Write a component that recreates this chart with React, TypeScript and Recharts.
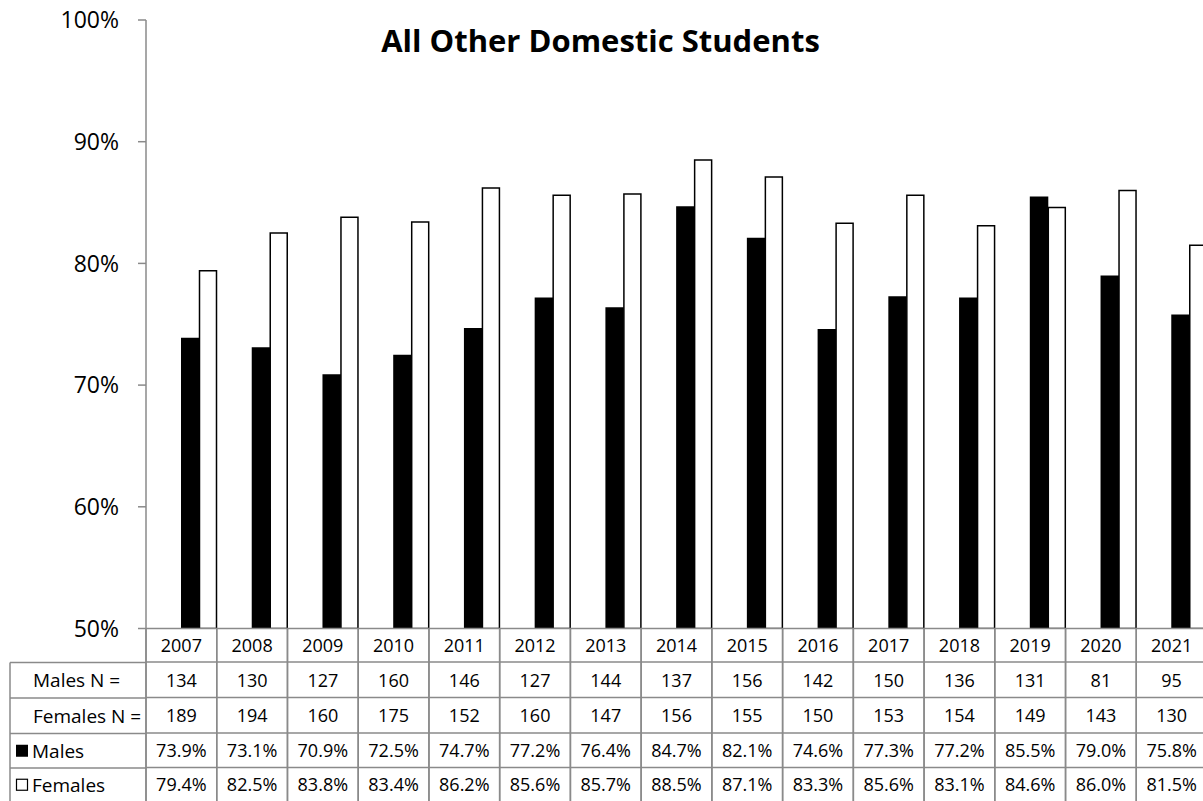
import React from 'react';
import { BarChart, Bar, XAxis, YAxis } from 'recharts';

const years = ['2007', '2008', '2009', '2010', '2011', '2012', '2013', '2014', '2015', '2016', '2017', '2018', '2019', '2020', '2021'];
const malesN = [134, 130, 127, 160, 146, 127, 144, 137, 156, 142, 150, 136, 131, 81, 95];
const femalesN = [189, 194, 160, 175, 152, 160, 147, 156, 155, 150, 153, 154, 149, 143, 130];
const malesPct = [73.9, 73.1, 70.9, 72.5, 74.7, 77.2, 76.4, 84.7, 82.1, 74.6, 77.3, 77.2, 85.5, 79.0, 75.8];
const femalesPct = [79.4, 82.5, 83.8, 83.4, 86.2, 85.6, 85.7, 88.5, 87.1, 83.3, 85.6, 83.1, 84.6, 86.0, 81.5];
const yTicks = [50, 60, 70, 80, 90, 100];

const data = years.map((year, i) => ({
  year,
  males: malesPct[i],
  females: femalesPct[i],
}));

const FONT = '"Open Sans", sans-serif';
const GRID = '#8a8a8a';

// plot geometry
const CHART_W = 1215;
const CHART_H = 801;
const AXIS_W = 146;
const TOP = 20;
const TABLE_H = 172.5;
const RIGHT = 8;
const COL_W = (CHART_W - AXIS_W - RIGHT) / years.length;

// row boundaries below the x axis line
const ROWS = [0, 33.5, 69, 104.5, 139, 172.5];
const mid = (r: number) => (ROWS[r] + ROWS[r + 1]) / 2;

const TableColumn = (props: any) => {
  const { x, y, payload } = props;
  const i = payload.index;
  const l = x - COL_W / 2;
  const r = x + COL_W / 2;
  const cells = [
    years[i],
    String(malesN[i]),
    String(femalesN[i]),
    malesPct[i].toFixed(1) + '%',
    femalesPct[i].toFixed(1) + '%',
  ];
  return (
    <g>
      <line x1={l} x2={l} y1={y} y2={y + ROWS[5]} stroke={GRID} strokeWidth={1.5} />
      <line x1={r} x2={r} y1={y} y2={y + ROWS[5]} stroke={GRID} strokeWidth={1.5} />
      {[1, 2, 3, 4].map((k) => (
        <line key={k} x1={l} x2={r} y1={y + ROWS[k]} y2={y + ROWS[k]} stroke={GRID} strokeWidth={1.5} />
      ))}
      {cells.map((c, k) => (
        <text key={k} x={x} y={y + mid(k)} textAnchor="middle" dominantBaseline="central"
          fontFamily={FONT} fontSize={18} fill="#000">
          {c}
        </text>
      ))}
    </g>
  );
};

const RowLabels = () => {
  const top = CHART_H - TABLE_H;
  const y = (k: number) => top + ROWS[k];
  return (
    <svg width={AXIS_W + 2} height={TABLE_H + 2} viewBox={`0 ${top} ${AXIS_W + 2} ${TABLE_H + 2}`}
      style={{ position: 'absolute', left: 0, top }}>
      {[1, 2, 3, 4].map((k) => (
        <line key={k} x1={10} x2={AXIS_W} y1={y(k)} y2={y(k)} stroke={GRID} strokeWidth={1.5} />
      ))}
      <line x1={10} x2={10} y1={y(1)} y2={y(5)} stroke={GRID} strokeWidth={1.5} />
      <line x1={AXIS_W} x2={AXIS_W} y1={y(0)} y2={y(5)} stroke={GRID} strokeWidth={1.5} />
      <text x={33} y={top + mid(1)} dominantBaseline="central" fontFamily={FONT} fontSize={19}>Males N =</text>
      <text x={33} y={top + mid(2)} dominantBaseline="central" fontFamily={FONT} fontSize={19}>Females N =</text>
      <rect x={16} y={top + mid(3) - 6} width={12} height={12} fill="#000" />
      <text x={32} y={top + mid(3)} dominantBaseline="central" fontFamily={FONT} fontSize={19}>Males</text>
      <rect x={16.5} y={top + mid(4) - 5.5} width={11} height={11} fill="#fff" stroke="#000" strokeWidth={1.2} />
      <text x={32} y={top + mid(4)} dominantBaseline="central" fontFamily={FONT} fontSize={19}>Females</text>
    </svg>
  );
};

export default function App() {
  return (
    <div style={{ position: 'fixed', left: 0, top: 0, width: 1203, height: 801, overflow: 'hidden', background: '#fff' }}>
      <div style={{ position: 'absolute', left: 0, top: 20, width: 1203, textAlign: 'center', fontFamily: FONT, fontWeight: 700, fontSize: 31, lineHeight: '40px' }}>
        <span style={{ position: 'relative', left: -1 }}>All Other Domestic Students</span>
      </div>
      <div style={{ position: 'absolute', left: 0, top: 0 }}>
        <BarChart width={CHART_W} height={CHART_H} data={data}
          margin={{ top: TOP, right: RIGHT, bottom: 0, left: 0 }}
          barGap={0} barCategoryGap={0}>
          <YAxis
            width={AXIS_W}
            domain={[50, 100]}
            ticks={yTicks}
            allowDataOverflow
            tickFormatter={(v: number) => `${v}%`}
            axisLine={{ stroke: GRID, strokeWidth: 1.5 }}
            tickLine={{ stroke: GRID, strokeWidth: 1.5 }}
            tickSize={8}
            tickMargin={19}
            tick={{ fontFamily: FONT, fontSize: 23, fill: '#000' }}
          />
          <XAxis
            dataKey="year"
            height={TABLE_H}
            interval={0}
            tickSize={0}
            tickMargin={0}
            tickLine={false}
            axisLine={{ stroke: GRID, strokeWidth: 1.5 }}
            tick={<TableColumn />}
          />
          {/* empty slot keeps the bars in the right half of each category, as in the source */}
          <Bar dataKey="slot" barSize={35} fill="none" isAnimationActive={false} />
          <Bar dataKey="males" barSize={18.5} fill="#000" isAnimationActive={false} />
          <Bar dataKey="females" barSize={17} fill="#fff" stroke="#000" strokeWidth={1.5} isAnimationActive={false} />
        </BarChart>
      </div>
      <RowLabels />
    </div>
  );
}
